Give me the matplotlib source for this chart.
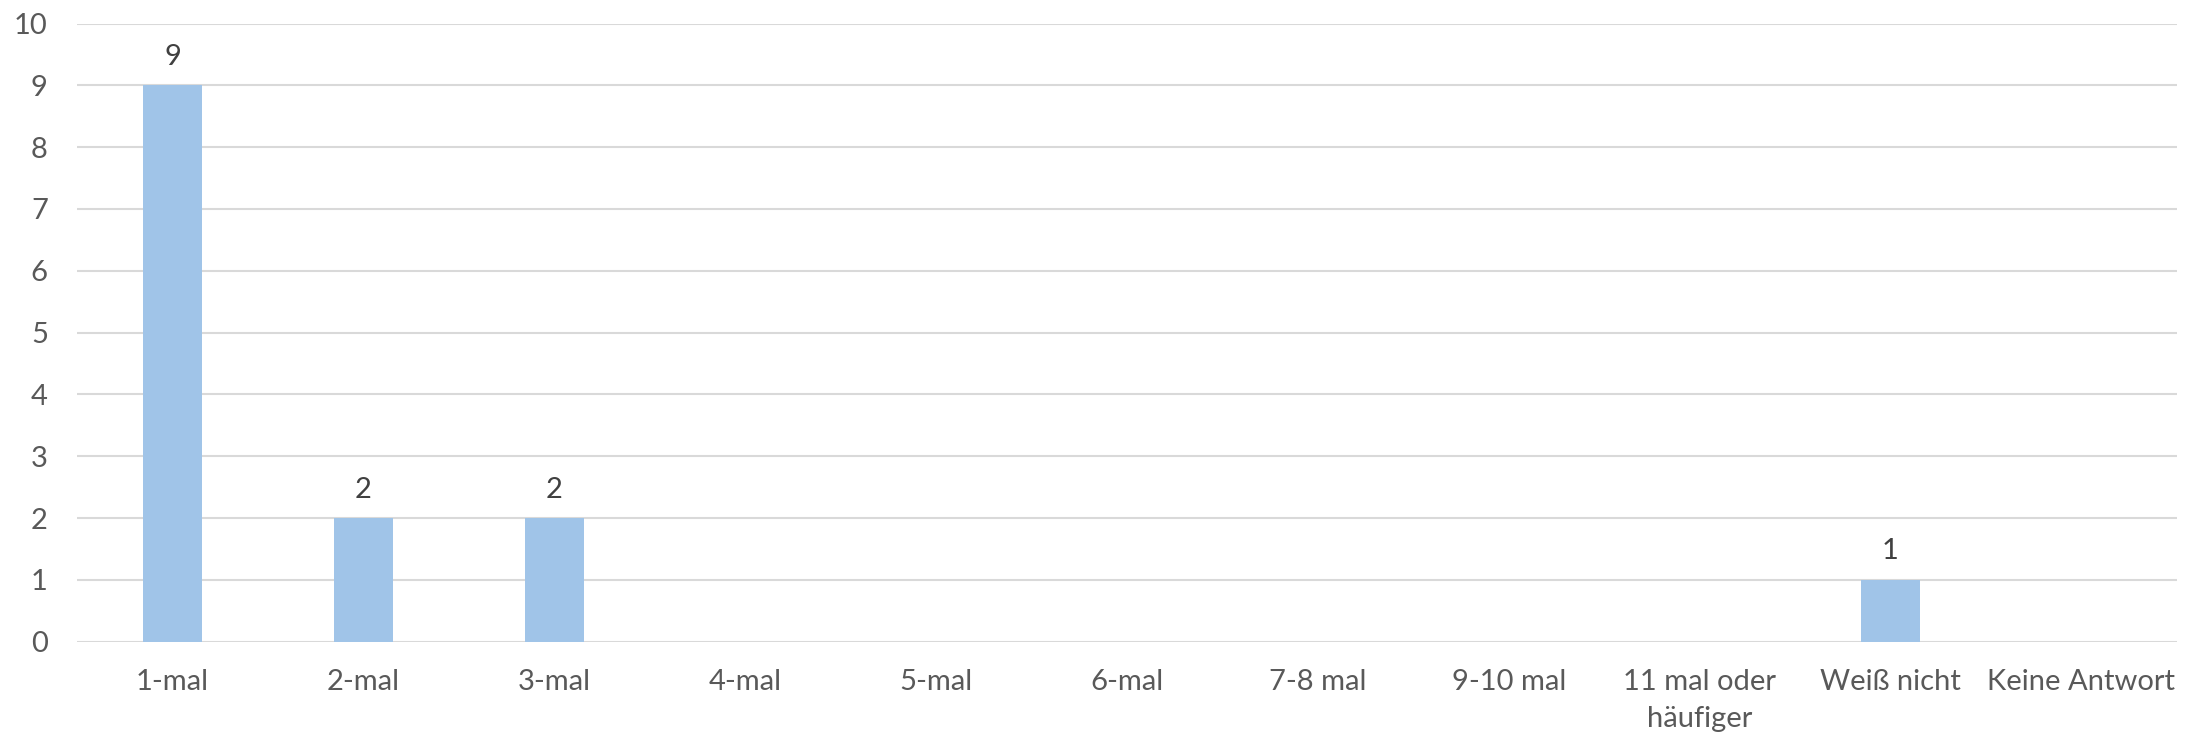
import matplotlib
matplotlib.use("Agg")
from matplotlib import pyplot as plt

categories = ["1-mal", "2-mal", "3-mal", "4-mal", "5-mal", "6-mal", "7-8 mal",
              "9-10 mal", "11 mal oder\nhäufiger", "Weiß nicht", "Keine Antwort"]
counts = [9, 2, 2, 0, 0, 0, 0, 0, 0, 1, 0]
y_ticks = list(range(0, 11))

plt.rcParams['font.family'] = ['Lato', 'DejaVu Sans']

fig = plt.figure(figsize=(22.03, 7.39), dpi=100)
ax = fig.add_axes([0.03495, 0.1317, 0.9532, 0.8365])

x = range(len(categories))
ax.bar(x, counts, width=0.31, color='#A0C4E8', zorder=3)

# value labels only on non-zero bars
for xi, v in zip(x, counts):
    if v > 0:
        ax.text(xi, v + 0.25, str(v), ha='center', va='bottom', fontsize=21, color='#404040')

ax.set_xlim(-0.5, len(categories) - 0.5)
ax.set_ylim(0, 10)
ax.set_yticks(y_ticks)
ax.set_xticks(list(x))
ax.set_xticklabels(categories, fontsize=21, color='#595959', linespacing=1.5)
ax.tick_params(axis='y', labelsize=21, labelcolor='#595959', length=0, pad=21)
ax.tick_params(axis='x', length=0, pad=20)

ax.grid(axis='y', color='#D9D9D9', linewidth=1.5, zorder=0)
for s in ax.spines.values():
    s.set_visible(False)

fig.savefig('out.png', dpi=100)
